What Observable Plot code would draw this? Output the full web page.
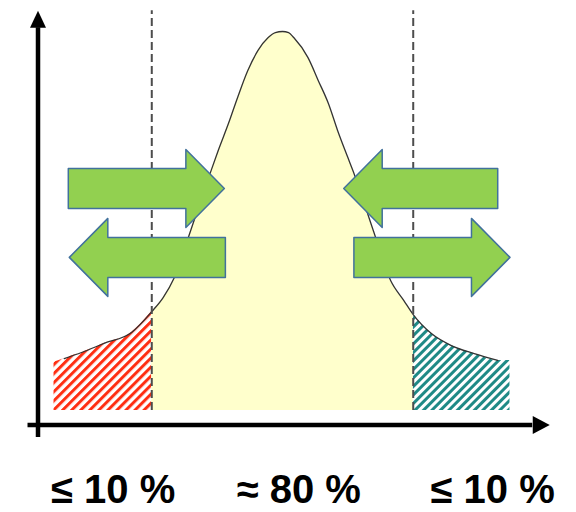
<!DOCTYPE html>
<html><head><meta charset="utf-8">
<script src="https://cdn.jsdelivr.net/npm/d3@7"></script>
<script src="https://cdn.jsdelivr.net/npm/@observablehq/plot@0.6"></script>
<style>body{margin:0;background:#fff}#chart{width:576px;height:512px}</style>
</head><body><div id="chart"></div>
<script>
// ---- data ----
// bell curve: position in σ units, relative height
const curveZ = [-2.14, -1.97, -1.75, -1.48, -1.2816, -1.17, -1.06, -0.90, -0.70, -0.63, -0.53, -0.44, -0.34, -0.24, -0.14, -0.07, 0, 0.06, 0.11, 0.25, 0.35, 0.45, 0.54, 0.64, 0.69, 0.89, 1.06, 1.19, 1.2816, 1.46, 1.65, 1.88, 2.11];
const curveH = [0.137, 0.153, 0.177, 0.206, 0.261, 0.298, 0.351, 0.475, 0.633, 0.686, 0.757, 0.826, 0.897, 0.950, 0.984, 0.997, 1.0, 0.997, 0.984, 0.931, 0.871, 0.810, 0.739, 0.668, 0.633, 0.475, 0.343, 0.290, 0.253, 0.203, 0.172, 0.150, 0.132];
const cutoffZ = [-1.2816, 1.2816];
const tailEndZ = [-2.24, 2.23];
const tailEndH = [0.127, 0.132];
// green block arrows
const arrowTail = [-2.10, -0.56, 2.11, 0.70];
const arrowTip = [-0.57, -2.09, 0.60, 2.23];
const arrowMid = [0.586, 0.404, 0.586, 0.404];
// bottom labels
const labelZ = [-1.66, 0.16, 2.06];
const labelText = ["≤ 10 %", "≈ 80 %", "≤ 10 %"];
// axes
const yAxisZ = -2.397, yAxisFrom = -0.071, yAxisTo = 1.055;
const xAxisH = -0.038, xAxisFrom = -2.495, xAxisTo = 2.62;

// ---- build tables ----
const curve = curveZ.map((z, i) => ({z, h: curveH[i]}));
const mid = curve.filter(d => d.z >= cutoffZ[0] && d.z <= cutoffZ[1]);
const leftTail = [{z: tailEndZ[0], h: tailEndH[0]}, ...curve.filter(d => d.z <= cutoffZ[0])];
const rightTail = [...curve.filter(d => d.z >= cutoffZ[1]), {z: tailEndZ[1], h: tailEndH[1]}];

const pxZ = 102, pxH = 379, cx = 282;
const headLen = 38.5 / pxZ, shaftHalf = 20 / pxH, headHalf = 39 / pxH;
const arrowPts = [];
arrowTail.forEach((t, i) => {
  const tip = arrowTip[i], c = arrowMid[i], dir = Math.sign(tip - t), b = tip - dir * headLen;
  [[t, c + shaftHalf], [b, c + shaftHalf], [b, c + headHalf], [tip, c], [b, c - headHalf], [b, c - shaftHalf], [t, c - shaftHalf]]
    .forEach(([z, h]) => arrowPts.push({id: i, z, h}));
});

const headUp = {draw(ctx) { ctx.moveTo(0, 0); ctx.lineTo(-8, 17); ctx.lineTo(8, 17); ctx.closePath(); }};
const headRight = {draw(ctx) { ctx.moveTo(0, 0); ctx.lineTo(-17, -9); ctx.lineTo(-17, 9); ctx.closePath(); }};
const headTipPx = 17;

const plot = Plot.plot({
  width: 576, height: 512,
  margin: 0,
  x: {domain: [-2.7, 2.7], range: [cx - 2.7 * pxZ, cx + 2.7 * pxZ], axis: null},
  y: {domain: [0, 1], range: [410, 410 - pxH], axis: null},
  style: {background: "white", overflow: "visible"},
  marks: [
    Plot.areaY(leftTail, {x: "z", y1: 0, y2: "h", fill: "url(#hatchRed)", curve: "monotone-x"}),
    Plot.areaY(rightTail, {x: "z", y1: 0, y2: "h", fill: "url(#hatchTeal)", curve: "monotone-x"}),
    Plot.areaY(mid, {x: "z", y1: 0, y2: "h", fill: "#FFFFCC", curve: "monotone-x"}),
    Plot.line(curve, {x: "z", y: "h", stroke: "#333", strokeWidth: 1.3, curve: "monotone-x"}),
    Plot.ruleX(cutoffZ, {x: d => d, y1: 0, y2: yAxisTo, stroke: "#4d4d4d", strokeWidth: 2, strokeDasharray: "8,4"}),
    Plot.line(arrowPts, {x: "z", y: "h", z: "id", fill: "#92D050", stroke: "#41719C", strokeWidth: 1.5, curve: "linear-closed"}),
    Plot.ruleX([yAxisZ], {x: d => d, y1: yAxisFrom, y2: yAxisTo - headTipPx / pxH, stroke: "black", strokeWidth: 4.5}),
    Plot.ruleY([xAxisH], {y: d => d, x1: xAxisFrom, x2: xAxisTo - headTipPx / pxZ, stroke: "black", strokeWidth: 4.5}),
    Plot.dot([{z: yAxisZ, h: yAxisTo}], {x: "z", y: "h", symbol: headUp, fill: "black", stroke: "none"}),
    Plot.dot([{z: xAxisTo, h: xAxisH}], {x: "z", y: "h", symbol: headRight, fill: "black", stroke: "none"}),
    Plot.text(labelText, {x: (d, i) => labelZ[i], y: -0.209, text: d => d, fontSize: 40, fontWeight: "bold", fontFamily: "Liberation Sans, Arial, sans-serif", fill: "black", textAnchor: "middle", lineAnchor: "middle"})
  ]
});

// hatch patterns
const ns = "http://www.w3.org/2000/svg";
const defs = document.createElementNS(ns, "defs");
[["hatchRed", "#FF2E12", 6.4, 3], ["hatchTeal", "#1F8A86", 6, 3]].forEach(([id, col, w, sw]) => {
  const p = document.createElementNS(ns, "pattern");
  p.setAttribute("id", id);
  p.setAttribute("patternUnits", "userSpaceOnUse");
  p.setAttribute("width", w);
  p.setAttribute("height", w);
  p.setAttribute("patternTransform", "rotate(45)");
  const r = document.createElementNS(ns, "rect");
  r.setAttribute("x", 0); r.setAttribute("y", 0);
  r.setAttribute("width", sw); r.setAttribute("height", w);
  r.setAttribute("fill", col);
  p.appendChild(r);
  defs.appendChild(p);
});
plot.insertBefore(defs, plot.firstChild);
document.getElementById("chart").appendChild(plot);
</script>
</body></html>
